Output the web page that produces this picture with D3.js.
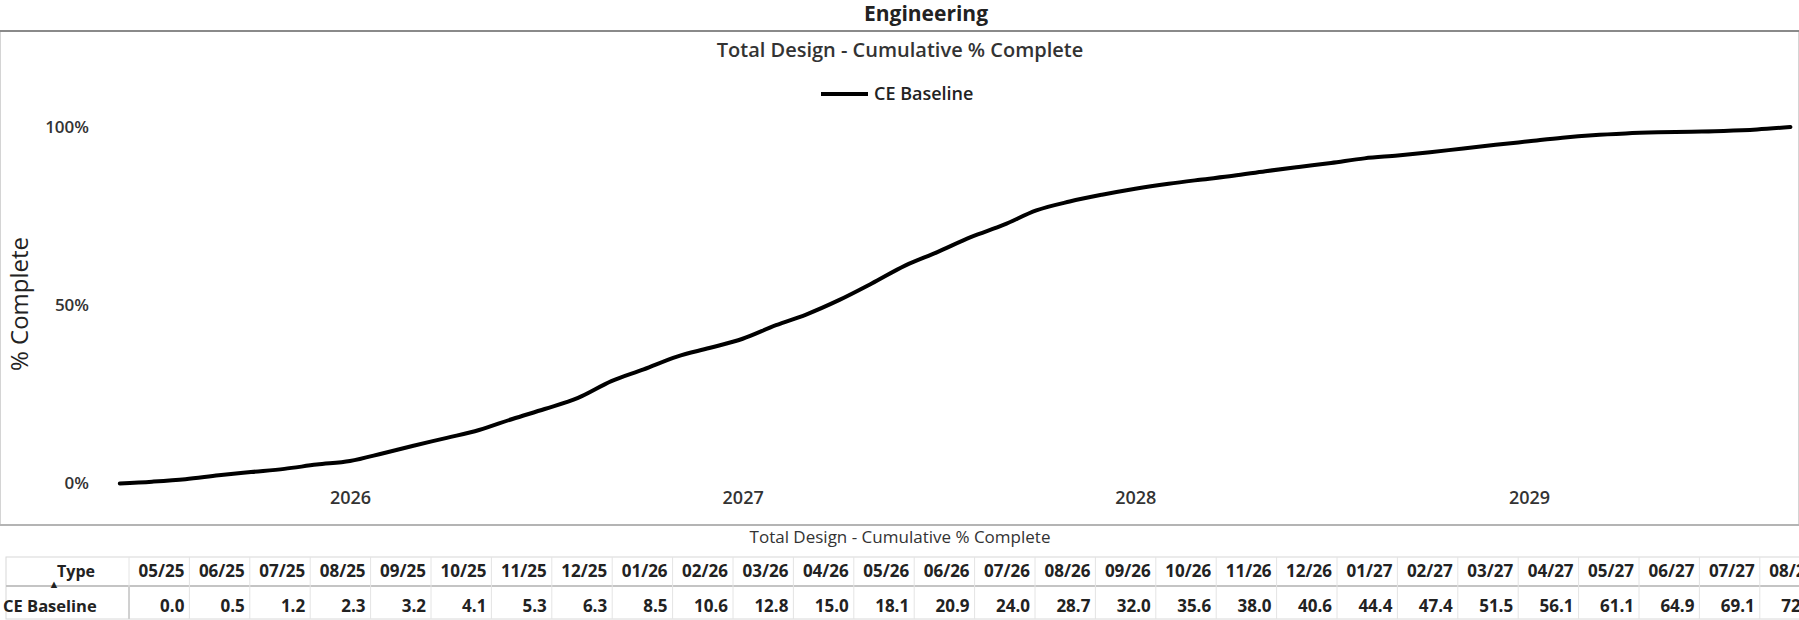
<!DOCTYPE html>
<html>
<head>
<meta charset="utf-8">
<script src="https://cdn.jsdelivr.net/npm/d3@7"></script>
<style>
  body { margin: 0; background: #fff; }
  svg { display: block; font-family: "Open Sans", "Noto Sans", sans-serif; }
</style>
</head>
<body>
<svg width="1799" height="620"></svg>
<script>
// monthly periods, 05/25 .. 08/29
var months = d3.timeMonth.range(new Date(2025, 4, 1), new Date(2029, 8, 1));
var monthLabels = months.map(d3.timeFormat('%m/%y'));

// cumulative % complete, CE Baseline
var baseline = [0.0, 0.5, 1.2, 2.3, 3.2, 4.1, 5.3, 6.3, 8.5, 10.6, 12.8, 15.0,
  18.1, 20.9, 24.0, 28.7, 32.0, 35.6, 38.0, 40.6, 44.4, 47.4, 51.5, 56.1,
  61.1, 64.9, 69.1, 72.6, 76.6, 79.1, 81.0, 82.7, 84.1, 85.2, 86.3, 87.6,
  88.8, 89.9, 91.2, 92.0, 92.9, 94.0, 95.0, 96.0, 97.0, 97.7, 98.2, 98.5,
  98.7, 98.9, 99.3, 100.0];

var yTicks = [0, 50, 100];
var seriesName = 'CE Baseline';
var title = 'Engineering';
var subtitle = 'Total Design - Cumulative % Complete';

var svg = d3.select('svg');

// each value is plotted at the end of its month
var data = months.map(function(m, i) {
  return { date: d3.timeMonth.offset(m, 1), label: monthLabels[i], value: baseline[i] };
});

var x = d3.scaleTime()
  .domain([new Date(2026, 0, 1), new Date(2029, 0, 1)])
  .range([350, 1529]);
var y = d3.scaleLinear().domain([0, 100]).range([483.5, 127]);

// panel frame
svg.append('rect')
  .attr('x', 0.5).attr('y', 31).attr('width', 1798).attr('height', 494)
  .attr('fill', 'none').attr('stroke', '#d4d4d4');

// header
svg.append('text')
  .attr('x', 926).attr('y', 21)
  .attr('text-anchor', 'middle')
  .style('font-size', '21px').style('font-weight', 700).attr('fill', '#222')
  .text(title);

svg.append('line')
  .attr('x1', 0).attr('x2', 1799).attr('y1', 31).attr('y2', 31)
  .attr('stroke', '#8a8a8a').attr('stroke-width', 2);

svg.append('text')
  .attr('x', 900).attr('y', 57)
  .attr('text-anchor', 'middle')
  .style('font-size', '20px').style('font-weight', 600).attr('fill', '#333')
  .text(subtitle);

// legend
var legend = svg.append('g').attr('transform', 'translate(821,94)');
legend.append('line').attr('x1', 0).attr('x2', 47)
  .attr('stroke', '#000').attr('stroke-width', 4);
legend.append('text').attr('x', 53).attr('y', 6)
  .style('font-size', '18px').style('font-weight', 600).attr('fill', '#222')
  .text(seriesName);

// axes
var yAxis = svg.append('g')
  .attr('transform', 'translate(89,0)')
  .call(d3.axisLeft(y).tickValues(yTicks).tickSize(0).tickPadding(0)
    .tickFormat(function(d) { return d + '%'; }));
yAxis.select('.domain').remove();
yAxis.selectAll('text')
  .style('font-size', '17px').style('font-weight', 600).attr('fill', '#333')
  .style('font-family', '"Open Sans", sans-serif');

var xAxis = svg.append('g')
  .attr('transform', 'translate(0,488)')
  .call(d3.axisBottom(x).ticks(d3.timeYear).tickFormat(d3.timeFormat('%Y')).tickSize(0));
xAxis.select('.domain').remove();
xAxis.selectAll('text')
  .style('font-size', '18px').style('font-weight', 600).attr('fill', '#333')
  .style('font-family', '"Open Sans", sans-serif');

svg.append('text')
  .attr('transform', 'translate(28,304) rotate(-90)')
  .attr('text-anchor', 'middle')
  .style('font-size', '24px').attr('fill', '#222')
  .text('% Complete');

// the line
var line = d3.line()
  .x(function(d) { return x(d.date); })
  .y(function(d) { return y(d.value); })
  .curve(d3.curveMonotoneX);

svg.append('path')
  .datum(data)
  .attr('d', line)
  .attr('fill', 'none')
  .attr('stroke', '#000')
  .attr('stroke-width', 4)
  .attr('stroke-linecap', 'round')
  .attr('stroke-linejoin', 'round');

// table below the chart
svg.append('line')
  .attr('x1', 0).attr('x2', 1799).attr('y1', 525).attr('y2', 525)
  .attr('stroke', '#b4b4b4').attr('stroke-width', 2);

svg.append('text')
  .attr('x', 900).attr('y', 543)
  .attr('text-anchor', 'middle')
  .style('font-size', '17px').attr('fill', '#333')
  .text(subtitle);

var colW = 60.4;
var col = d3.scaleBand()
  .domain(monthLabels)
  .range([129, 129 + colW * monthLabels.length]);

// only the columns that start inside the page are drawn
var shown = data.filter(function(d) { return col(d.label) < 1799; });

var headTop = 557, rowMid = 586, rowBottom = 619;
var table = svg.append('g');

table.append('rect')
  .attr('x', 6).attr('y', headTop)
  .attr('width', 1799).attr('height', rowBottom - headTop)
  .attr('fill', 'none').attr('stroke', '#d8d8d8');
table.append('line')
  .attr('x1', 6).attr('x2', 1799).attr('y1', rowMid).attr('y2', rowMid)
  .attr('stroke', '#c4c4c4').attr('stroke-width', 2);
table.append('line')
  .attr('x1', 129).attr('x2', 129).attr('y1', rowMid).attr('y2', rowBottom)
  .attr('stroke', '#bdbdbd').attr('stroke-width', 2);
table.selectAll('line.sep')
  .data(shown)
  .enter().append('line')
  .attr('class', 'sep')
  .attr('x1', function(d) { return col(d.label); })
  .attr('x2', function(d) { return col(d.label); })
  .attr('y1', headTop).attr('y2', rowBottom)
  .attr('stroke', '#e4e4e4');

table.append('text')
  .attr('x', 76).attr('y', 577)
  .attr('text-anchor', 'middle')
  .style('font-size', '16px').style('font-weight', 700).attr('fill', '#222')
  .text('Type');
table.append('text')
  .attr('x', 54).attr('y', 588)
  .attr('text-anchor', 'middle')
  .style('font-size', '11px').attr('fill', '#222')
  .text('\u25B2');
table.append('text')
  .attr('x', 3).attr('y', 612)
  .style('font-size', '16.5px').style('font-weight', 700).attr('fill', '#222')
  .text(seriesName);

table.selectAll('text.head')
  .data(shown)
  .enter().append('text')
  .attr('class', 'head')
  .attr('x', function(d) { return col(d.label) + col.bandwidth() - 5; })
  .attr('y', 577)
  .attr('text-anchor', 'end')
  .style('font-size', '17px').style('font-weight', 700).attr('fill', '#222')
  .text(function(d) { return d.label; });

table.selectAll('text.val')
  .data(shown)
  .enter().append('text')
  .attr('class', 'val')
  .attr('x', function(d) { return col(d.label) + col.bandwidth() - 5; })
  .attr('y', 612)
  .attr('text-anchor', 'end')
  .style('font-size', '17px').style('font-weight', 700).attr('fill', '#222')
  .text(function(d) { return d.value.toFixed(1); });
</script>
</body>
</html>
